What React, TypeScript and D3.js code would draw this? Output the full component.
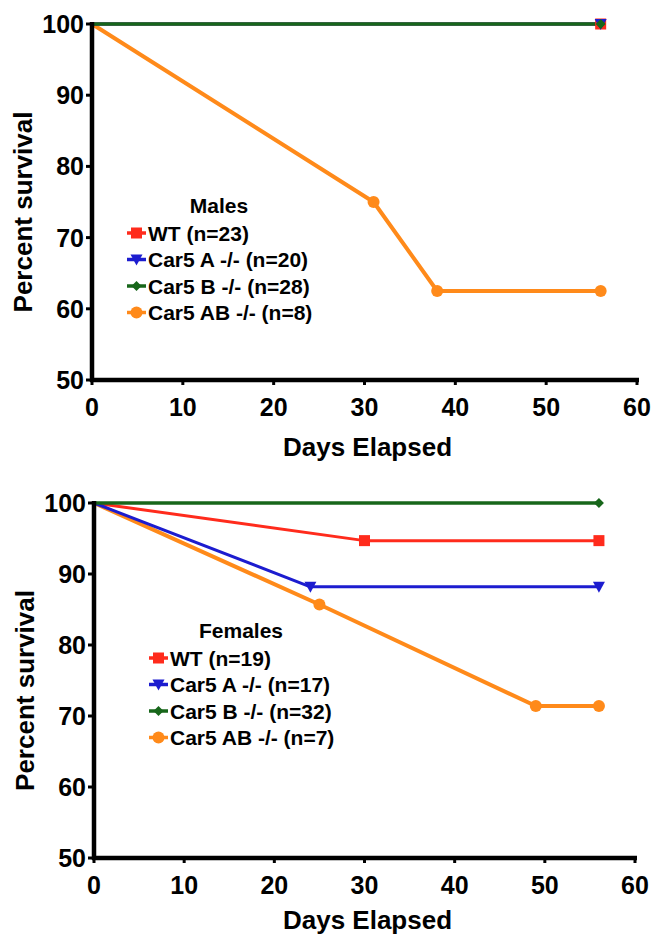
import React from 'react'
import * as d3 from 'd3'

// days at which survival was recorded, per group
const maleWT = [{ day: 0, pct: 100 }, { day: 56, pct: 100 }]
const maleA = [{ day: 0, pct: 100 }, { day: 56, pct: 100 }]
const maleB = [{ day: 0, pct: 100 }, { day: 56, pct: 100 }]
const maleAB = [{ day: 0, pct: 100 }, { day: 31, pct: 75 }, { day: 38, pct: 62.5 }, { day: 56, pct: 62.5 }]

const femaleWT = [{ day: 0, pct: 100 }, { day: 30, pct: 94.7 }, { day: 56, pct: 94.7 }]
const femaleA = [{ day: 0, pct: 100 }, { day: 24, pct: 88.2 }, { day: 56, pct: 88.2 }]
const femaleB = [{ day: 0, pct: 100 }, { day: 56, pct: 100 }]
const femaleAB = [{ day: 0, pct: 100 }, { day: 25, pct: 85.7 }, { day: 49, pct: 71.4 }, { day: 56, pct: 71.4 }]

const maleLabels = ['WT (n=23)', 'Car5 A -/- (n=20)', 'Car5 B -/- (n=28)', 'Car5 AB -/- (n=8)']
const femaleLabels = ['WT (n=19)', 'Car5 A -/- (n=17)', 'Car5 B -/- (n=32)', 'Car5 AB -/- (n=7)']

const xTicks = [0, 10, 20, 30, 40, 50, 60]
const yTicks = [50, 60, 70, 80, 90, 100]

const colors = ['#ff2b1c', '#1c1ccf', '#17661a', '#ff8a1a']
const shapes = ['square', 'triangle', 'diamond', 'circle']
const widths = [3, 3, 3.5, 4]

const FONT = '"Liberation Sans", Arial, Helvetica, sans-serif'

type Pt = { day: number; pct: number }

function Marker({ shape, x, y, color }: { shape: string; x: number; y: number; color: string }) {
  if (shape === 'square') return <rect x={x - 5.5} y={y - 5.5} width={11} height={11} fill={color} />
  if (shape === 'triangle') return <path d={`M${x - 6},${y - 5}L${x + 6},${y - 5}L${x},${y + 6}Z`} fill={color} />
  if (shape === 'diamond') return <path d={`M${x},${y - 5}L${x + 5},${y}L${x},${y + 5}L${x - 5},${y}Z`} fill={color} />
  return <circle cx={x} cy={y} r={6} fill={color} />
}

function LegendSym({ shape, x, y, color }: { shape: string; x: number; y: number; color: string }) {
  return (
    <g>
      <line x1={x} x2={x + 19} y1={y} y2={y} stroke={color} strokeWidth={3.5} />
      <Marker shape={shape} x={x + 9.5} y={y} color={color} />
    </g>
  )
}

function Panel({ top, left, right, bottom, series, labels, title, legendX, legendY, titleGap }: {
  top: number; left: number; right: number; bottom: number; series: Pt[][]; labels: string[];
  title: string; legendX: number; legendY: number; titleGap: number
}) {
  const x = d3.scaleLinear().domain([0, 60]).range([left, right])
  const y = d3.scaleLinear().domain([50, 100]).range([bottom, top])
  const line = d3.line<Pt>().x(d => x(d.day)).y(d => y(d.pct))
  const order = [3, 0, 1, 2]
  return (
    <g fontFamily={FONT} fontWeight="bold">
      {order.map(i => (
        <path key={'l' + i} d={line(series[i]) ?? ''} fill="none" stroke={colors[i]} strokeWidth={widths[i]} strokeLinejoin="round" />
      ))}
      {order.map(i => series[i].filter(d => d.day > 0).map((d, j) => (
        <Marker key={'m' + i + '-' + j} shape={shapes[i]} x={x(d.day)} y={y(d.pct)} color={colors[i]} />
      )))}
      {/* axes */}
      <line x1={left} x2={left} y1={top - 2} y2={bottom + 2} stroke="#000" strokeWidth={4.5} />
      <line x1={left - 2} x2={right + 2} y1={bottom} y2={bottom} stroke="#000" strokeWidth={4.5} />
      {yTicks.map(t => (
        <g key={'y' + t}>
          <line x1={left - 6} x2={left} y1={y(t)} y2={y(t)} stroke="#000" strokeWidth={3} />
          <text x={left - 8} y={y(t)} dy="0.36em" textAnchor="end" fontSize={25}>{t}</text>
        </g>
      ))}
      {xTicks.map(t => (
        <g key={'x' + t}>
          <line x1={x(t)} x2={x(t)} y1={bottom} y2={bottom + 5} stroke="#000" strokeWidth={3} />
          <text x={x(t)} y={bottom + 27} dy="0.36em" textAnchor="middle" fontSize={25}>{t}</text>
        </g>
      ))}
      <text x={(left + right) / 2 + 3} y={bottom + titleGap} dy="0.36em" textAnchor="middle" fontSize={26}>Days Elapsed</text>
      <text transform={`translate(${left - 69},${(top + bottom) / 2 + 10}) rotate(-90)`} dy="0.36em" textAnchor="middle" fontSize={26}>Percent survival</text>
      {/* legend */}
      <text x={legendX + 92} y={legendY} dy="0.36em" textAnchor="middle" fontSize={21}>{title}</text>
      {labels.map((lab, i) => (
        <g key={'g' + i}>
          <LegendSym shape={shapes[i]} x={legendX} y={legendY + 28 + i * 26.5} color={colors[i]} />
          <text x={legendX + 21} y={legendY + 28 + i * 26.5} dy="0.36em" fontSize={21}>{lab}</text>
        </g>
      ))}
    </g>
  )
}

export default function App() {
  return (
    <svg width={653} height={936} viewBox="0 0 653 936" style={{ position: 'absolute', left: 0, top: 0, background: '#fff' }}>
      <rect width={653} height={936} fill="#fff" />
      <Panel top={24} bottom={380} left={92} right={637} series={[maleWT, maleA, maleB, maleAB]}
        labels={maleLabels} title="Males" legendX={127} legendY={205} titleGap={67} />
      <Panel top={503} bottom={858} left={94} right={635} series={[femaleWT, femaleA, femaleB, femaleAB]}
        labels={femaleLabels} title="Females" legendX={149} legendY={630} titleGap={62} />
    </svg>
  )
}
